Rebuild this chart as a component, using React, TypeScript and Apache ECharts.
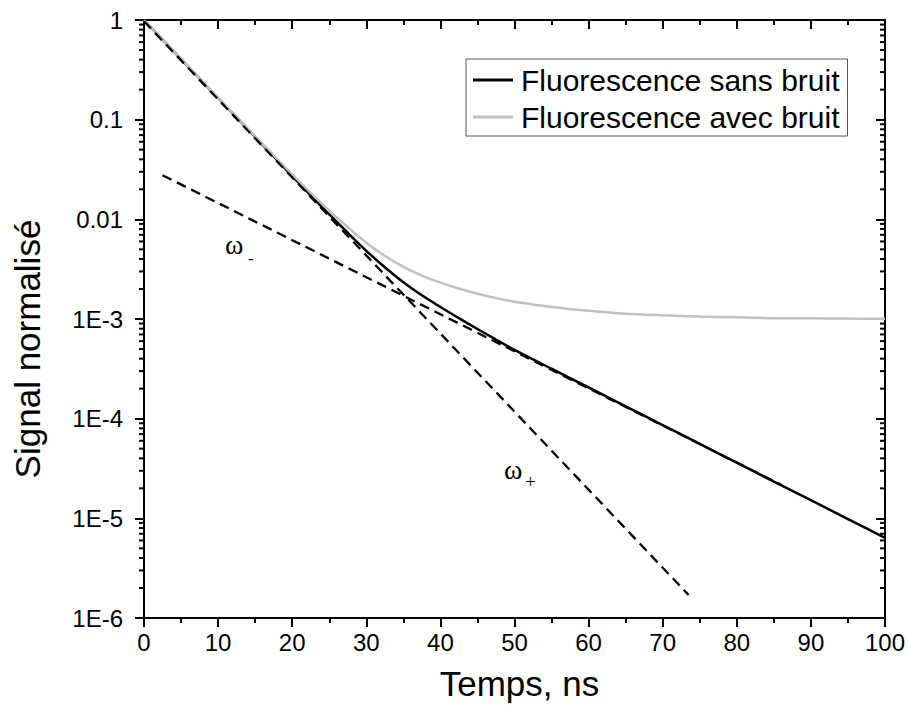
import React, { useEffect, useRef } from "react";
import * as echarts from "echarts";

// Time axis (ns)
const timeNs = [0, 5, 10, 15, 20, 22.5, 25, 27.5, 30, 32.5, 35, 37.5, 40, 42.5, 45, 47.5, 50, 55, 60, 65, 70, 75, 80, 85, 90, 95, 100];
// Fluorescence sans bruit (black)
const sansBruit = [1, 0.406, 0.165, 0.0671, 0.0272, 0.0174, 0.0112, 0.00733, 0.00483, 0.00331, 0.00234, 0.00173, 0.00132, 0.00102, 0.000794, 0.000622, 0.00049, 0.000317, 0.000206, 0.000133, 0.0000863, 0.0000558, 0.0000362, 0.0000234, 0.0000152, 0.00000984, 0.00000637];
// Fluorescence avec bruit (gray)
const avecBruit = [1, 0.407, 0.166, 0.0681, 0.0282, 0.0184, 0.0122, 0.00833, 0.00583, 0.00431, 0.00334, 0.00273, 0.00232, 0.00202, 0.00179, 0.00162, 0.00149, 0.00132, 0.00121, 0.00113, 0.00109, 0.00106, 0.00104, 0.00102, 0.001015, 0.00101, 0.001006];
// Asymptotes (dashed)
const omegaMinusT = [2.5, 86];
const omegaMinusV = [0.0277, 0.0000217];
const omegaPlusT = [0, 73.5];
const omegaPlusV = [0.97, 0.0000017];

// Axis ticks
const yTickValues = [1e-6, 1e-5, 1e-4, 1e-3, 0.01, 0.1, 1];
const yTickLabels = ["1E-6", "1E-5", "1E-4", "1E-3", "0.01", "0.1", "1"];
const minorMultipliers = [2, 3, 4, 5, 6, 7, 8, 9];
const decadeStarts = [1e-6, 1e-5, 1e-4, 1e-3, 1e-2, 1e-1];

const FONT = "'Liberation Sans', Arial, sans-serif";
const SERIF = "'Liberation Serif', 'DejaVu Serif', serif";

export default function App() {
  const ref = useRef<HTMLDivElement>(null);
  useEffect(() => {
    if (!ref.current) return;
    const chart = echarts.init(ref.current, null, { renderer: "svg" });
    const minorVals: number[][] = [];
    decadeStarts.forEach((d) => minorMultipliers.forEach((m) => minorVals.push([0, d * m])));
    const pair = (xs: number[], ys: number[]) => xs.map((x, i) => [x, ys[i]]);
    const yLabel = (val: number) => {
      const i = yTickValues.findIndex((v) => Math.abs(Math.log10(v) - Math.log10(val)) < 1e-6);
      return i >= 0 ? yTickLabels[i] : "";
    };
    const tickStyle = { color: "#000", width: 2 };
    chart.setOption({
      animation: false,
      backgroundColor: "#fff",
      grid: { left: 144, right: 24, top: 20, bottom: 88 },
      legend: {
        data: [
          { name: "Fluorescence sans bruit", icon: "rect" },
          { name: "Fluorescence avec bruit", icon: "rect" },
        ],
        orient: "vertical",
        left: 466,
        top: 59,
        borderColor: "#555",
        borderWidth: 1,
        borderRadius: 0,
        padding: [6, 8, 4, 7],
        itemWidth: 40,
        itemHeight: 3,
        itemGap: 7,
        selectedMode: false,
        textStyle: { fontFamily: FONT, fontSize: 30, color: "#000", padding: [0, 0, 0, 3] },
      },
      xAxis: [
        {
          type: "value",
          min: 0,
          max: 100,
          interval: 10,
          position: "bottom",
          name: "Temps, ns",
          nameLocation: "middle",
          nameGap: 48,
          nameTextStyle: { fontFamily: FONT, fontSize: 35, color: "#000", padding: [0, 0, 0, 10] },
          axisLine: { onZero: false, lineStyle: { color: "#000", width: 2 } },
          axisTick: { show: true, inside: false, length: 9, lineStyle: tickStyle },
          minorTick: { show: true, splitNumber: 2, length: 5, lineStyle: tickStyle },
          axisLabel: { fontFamily: FONT, fontSize: 24, color: "#000", margin: 12 },
          splitLine: { show: false },
        },
        {
          type: "value",
          min: 0,
          max: 100,
          interval: 10,
          position: "top",
          axisLine: { onZero: false, lineStyle: { color: "#000", width: 2 } },
          axisTick: { show: true, inside: true, length: 9, lineStyle: tickStyle },
          minorTick: { show: true, splitNumber: 2, length: 5, lineStyle: tickStyle },
          axisLabel: { show: false },
          splitLine: { show: false },
        },
      ],
      yAxis: [
        {
          type: "log",
          logBase: 10,
          min: 1e-6,
          max: 1,
          splitNumber: 6,
          position: "left",
          axisLine: { onZero: false, lineStyle: { color: "#000", width: 2 } },
          axisTick: { show: true, inside: false, length: 9, lineStyle: tickStyle },
          axisLabel: { fontFamily: FONT, fontSize: 24, color: "#000", margin: 21, formatter: yLabel },
          splitLine: { show: false },
        },
        {
          type: "log",
          logBase: 10,
          min: 1e-6,
          max: 1,
          splitNumber: 6,
          position: "right",
          axisLine: { onZero: false, lineStyle: { color: "#000", width: 2 } },
          axisTick: { show: true, inside: true, length: 9, lineStyle: tickStyle },
          axisLabel: { show: false },
          splitLine: { show: false },
        },
      ],
      series: [
        {
          name: "Fluorescence sans bruit",
          type: "line",
          data: pair(timeNs, sansBruit),
          symbol: "none",
          smooth: 0.3,
          lineStyle: { color: "#000", width: 2.5 },
          itemStyle: { color: "#000" },
          z: 3,
        },
        {
          name: "Fluorescence avec bruit",
          type: "line",
          data: pair(timeNs, avecBruit),
          symbol: "none",
          smooth: 0.3,
          lineStyle: { color: "#c0c0c0", width: 2.5 },
          itemStyle: { color: "#c0c0c0" },
          z: 4,
        },
        {
          name: "omegaMinus",
          type: "line",
          data: pair(omegaMinusT, omegaMinusV),
          symbol: "none",
          lineStyle: { color: "#000", width: 2.3, type: [10, 6] },
          z: 5,
        },
        {
          name: "omegaPlus",
          type: "line",
          data: pair(omegaPlusT, omegaPlusV),
          symbol: "none",
          lineStyle: { color: "#000", width: 2.3, type: [10, 6] },
          z: 5,
        },
        {
          name: "minorTicks",
          type: "custom",
          coordinateSystem: "cartesian2d",
          xAxisIndex: 0,
          yAxisIndex: 0,
          data: minorVals,
          encode: { x: 0, y: 1 },
          clip: false,
          silent: true,
          z: 10,
          renderItem: (_params: any, api: any) => {
            const v = api.value(1);
            const l = api.coord([0, v]);
            const r = api.coord([100, v]);
            return {
              type: "group",
              children: [
                { type: "line", shape: { x1: l[0] - 5, y1: l[1], x2: l[0], y2: l[1] }, style: { stroke: "#000", lineWidth: 2 } },
                { type: "line", shape: { x1: r[0] - 5, y1: r[1], x2: r[0], y2: r[1] }, style: { stroke: "#000", lineWidth: 2 } },
              ],
            };
          },
        },
      ],
      graphic: [
        {
          type: "text",
          x: 27,
          y: 349,
          rotation: Math.PI / 2,
          style: { text: "Signal normalisé", font: `35px ${FONT}`, fill: "#000", align: "center", verticalAlign: "middle" },
        },
        { type: "text", left: 225, top: 230, style: { text: "ω", font: `28px ${SERIF}`, fill: "#000" } },
        { type: "text", left: 248, top: 250, style: { text: "-", font: `17px ${SERIF}`, fill: "#000" } },
        { type: "text", left: 504, top: 455, style: { text: "ω", font: `28px ${SERIF}`, fill: "#000" } },
        { type: "text", left: 525, top: 472, style: { text: "+", font: `19px ${SERIF}`, fill: "#000" } },
      ],
    });
    return () => chart.dispose();
  }, []);
  return <div ref={ref} style={{ position: "absolute", left: 0, top: 0, width: 909, height: 706 }} />;
}
